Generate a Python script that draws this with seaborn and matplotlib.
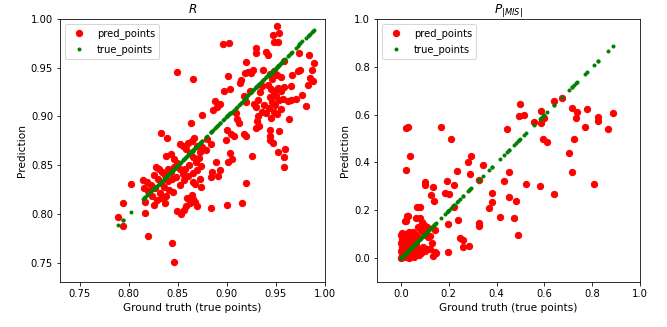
import seaborn as sns
import matplotlib.pyplot as plt

# R: ground truth vs prediction
r_truth = [0.951, 0.947, 0.953, 0.948, 0.952, 0.930, 0.930, 0.940, 0.942, 0.974, 0.984, 0.989, 0.920, 0.958,
           0.927, 0.925, 0.937, 0.972, 0.975, 0.987, 0.966, 0.985, 0.988, 0.983, 0.981, 0.977, 0.970, 0.965,
           0.962, 0.957, 0.965, 0.958, 0.955, 0.950, 0.946, 0.944, 0.948, 0.951, 0.955, 0.942, 0.945, 0.948,
           0.952, 0.944, 0.946, 0.949, 0.953, 0.943, 0.948, 0.951, 0.955, 0.940, 0.945, 0.963, 0.953, 0.944,
           0.944, 0.944, 0.947, 0.959, 0.958, 0.958, 0.952, 0.936, 0.934, 0.932, 0.928, 0.930, 0.932, 0.931,
           0.933, 0.930, 0.938, 0.936,
           0.896, 0.902, 0.901, 0.914, 0.913, 0.918, 0.922, 0.897, 0.903, 0.924, 0.888, 0.890, 0.886, 0.893,
           0.920, 0.917, 0.909, 0.910, 0.912, 0.900, 0.904, 0.899, 0.907, 0.917, 0.919, 0.880, 0.884, 0.879,
           0.875, 0.873, 0.926, 0.903, 0.905, 0.901, 0.889, 0.893, 0.891, 0.885, 0.884, 0.919, 0.915, 0.900,
           0.884, 0.875, 0.863, 0.866, 0.849,
           0.833, 0.839, 0.838, 0.843, 0.846, 0.852, 0.855, 0.858, 0.860, 0.864, 0.867, 0.870, 0.862, 0.866,
           0.869, 0.872, 0.874, 0.870, 0.866, 0.861, 0.857, 0.855, 0.852, 0.849, 0.846, 0.843, 0.840, 0.837,
           0.834, 0.831, 0.828, 0.826, 0.830, 0.833, 0.836, 0.840, 0.844, 0.848, 0.852, 0.856, 0.860, 0.865,
           0.868, 0.873, 0.874, 0.841, 0.845, 0.838, 0.832, 0.827, 0.823, 0.819, 0.816, 0.820, 0.824, 0.829,
           0.834, 0.837, 0.826, 0.859, 0.862, 0.865, 0.868, 0.870, 0.858, 0.856, 0.853, 0.849, 0.864, 0.817,
           0.817, 0.820, 0.844, 0.846, 0.789, 0.794, 0.794, 0.802, 0.815]
r_pred = [0.993, 0.984, 0.986, 0.976, 0.976, 0.970, 0.965, 0.966, 0.963, 0.965, 0.963, 0.955, 0.956, 0.957,
          0.948, 0.945, 0.948, 0.947, 0.948, 0.948, 0.942, 0.939, 0.936, 0.932, 0.911, 0.922, 0.918, 0.917,
          0.916, 0.918, 0.931, 0.930, 0.926, 0.921, 0.938, 0.944, 0.947, 0.942, 0.940, 0.932, 0.928, 0.925,
          0.929, 0.920, 0.915, 0.912, 0.917, 0.909, 0.905, 0.902, 0.908, 0.903, 0.898, 0.897, 0.885, 0.886,
          0.880, 0.876, 0.873, 0.867, 0.858, 0.848, 0.863, 0.931, 0.925, 0.917, 0.913, 0.910, 0.900, 0.895,
          0.890, 0.888, 0.912, 0.905,
          0.974, 0.975, 0.941, 0.937, 0.934, 0.945, 0.946, 0.926, 0.928, 0.926, 0.916, 0.910, 0.907, 0.913,
          0.915, 0.921, 0.903, 0.897, 0.893, 0.886, 0.882, 0.876, 0.880, 0.882, 0.880, 0.877, 0.872, 0.866,
          0.869, 0.863, 0.859, 0.862, 0.856, 0.853, 0.853, 0.845, 0.839, 0.843, 0.838, 0.832, 0.811, 0.809,
          0.806, 0.901, 0.893, 0.938, 0.946,
          0.883, 0.878, 0.859, 0.861, 0.856, 0.872, 0.870, 0.867, 0.873, 0.875, 0.878, 0.870, 0.862, 0.858,
          0.853, 0.857, 0.849, 0.845, 0.842, 0.850, 0.846, 0.841, 0.846, 0.852, 0.848, 0.843, 0.846, 0.840,
          0.843, 0.846, 0.848, 0.840, 0.836, 0.832, 0.828, 0.834, 0.836, 0.838, 0.830, 0.835, 0.839, 0.833,
          0.831, 0.836, 0.828, 0.824, 0.822, 0.818, 0.821, 0.826, 0.830, 0.833, 0.826, 0.823, 0.818, 0.814,
          0.816, 0.811, 0.809, 0.816, 0.811, 0.815, 0.812, 0.808, 0.808, 0.804, 0.800, 0.803, 0.819, 0.812,
          0.801, 0.777, 0.770, 0.751, 0.797, 0.811, 0.787, 0.831, 0.835]

# P_|MIS|: ground truth vs prediction
mis_truth = [0.886, 0.865, 0.824, 0.824, 0.807, 0.780, 0.770, 0.735, 0.731, 0.715, 0.724, 0.705, 0.717,
             0.674, 0.640, 0.584, 0.598, 0.557, 0.587, 0.595, 0.612, 0.580, 0.640,
             0.497, 0.495, 0.515, 0.523, 0.442, 0.431, 0.451, 0.379, 0.382, 0.370, 0.451, 0.482, 0.416,
             0.473, 0.488,
             0.020, 0.030, 0.168, 0.209, 0.038, 0.020, 0.294, 0.279, 0.343, 0.234, 0.290, 0.327, 0.099,
             0.100, 0.133, 0.192, 0.221, 0.183, 0.203, 0.124, 0.139, 0.069, 0.078, 0.029, 0.020, 0.223,
             0.196, 0.240, 0.143, 0.122, 0.247, 0.258, 0.260, 0.283, 0.196, 0.147, 0.133, 0.327, 0.326,
             0.000, 0.003, 0.002, 0.004, 0.001, 0.003, 0.002, 0.006, 0.010, 0.012, 0.010, 0.009, 0.014,
             0.016, 0.020, 0.024, 0.021, 0.026, 0.023, 0.030, 0.034, 0.040, 0.036, 0.041, 0.043, 0.046,
             0.050, 0.055, 0.051, 0.060, 0.064, 0.070, 0.075, 0.080, 0.086, 0.092, 0.100, 0.110, 0.120,
             0.056, 0.032, 0.062, 0.080, 0.090, 0.097, 0.110, 0.070, 0.084, 0.094, 0.104, 0.115, 0.130,
             0.144, 0.025, 0.018, 0.066, 0.048, 0.058]
mis_pred = [0.608, 0.538, 0.589, 0.573, 0.310, 0.623, 0.547, 0.610, 0.587, 0.629, 0.500, 0.440, 0.361,
            0.671, 0.658, 0.615, 0.587, 0.570, 0.564, 0.498, 0.487, 0.300, 0.270,
            0.644, 0.596, 0.598, 0.310, 0.539, 0.323, 0.360, 0.272, 0.233, 0.211, 0.256, 0.239, 0.172,
            0.166, 0.098,
            0.546, 0.550, 0.547, 0.500, 0.427, 0.370, 0.427, 0.400, 0.390, 0.366, 0.350, 0.328, 0.318,
            0.307, 0.296, 0.321, 0.304, 0.271, 0.268, 0.263, 0.240, 0.212, 0.212, 0.175, 0.154, 0.214,
            0.141, 0.158, 0.116, 0.094, 0.085, 0.077, 0.046, 0.049, 0.025, 0.022, 0.010, 0.147, 0.135,
            0.000, 0.012, 0.028, 0.045, 0.062, 0.080, 0.095, 0.105, 0.088, 0.070, 0.052, 0.035, 0.018,
            0.004, 0.100, 0.085, 0.066, 0.048, 0.030, 0.012, 0.108, 0.102, 0.080, 0.060, 0.032, 0.016,
            0.110, 0.082, 0.044, 0.022, 0.058, 0.034, 0.012, 0.040, 0.022, 0.046, 0.030, 0.040, 0.036,
            0.006, 0.002, 0.168, 0.166, 0.150, 0.140, 0.128, 0.132, 0.118, 0.108, 0.096, 0.088, 0.063,
            0.026, 0.175, 0.155, 0.092, 0.075, 0.100]

fig = plt.figure(figsize=(667 / 72, 327 / 72), dpi=72)
ax1 = fig.add_axes([60 / 667, 45 / 327, 265 / 667, 263 / 327])
ax2 = fig.add_axes([377 / 667, 45 / 327, 263 / 667, 263 / 327])


def draw(ax, truth, pred, title, lims, ticks):
    sns.scatterplot(x=truth, y=pred, ax=ax, color='red', edgecolor='red', linewidth=1, s=40,
                    label='pred_points', zorder=2)
    sns.scatterplot(x=truth, y=truth, ax=ax, color='green', edgecolor='green', linewidth=1, s=36,
                    marker='.', label='true_points', zorder=3)
    ax.set_xlim(lims)
    ax.set_ylim(lims)
    ax.set_xticks(ticks)
    ax.set_yticks(ticks)
    ax.set_title(title)
    ax.set_xlabel('Ground truth (true points)', fontsize=10.5)
    ax.set_ylabel('Prediction', fontsize=10.5)
    ax.legend(loc='upper left')


draw(ax1, r_truth, r_pred, '$R$', (0.73, 1.0), [0.75, 0.80, 0.85, 0.90, 0.95, 1.00])
draw(ax2, mis_truth, mis_pred, '$P_{|MIS|}$', (-0.1, 1.0), [0.0, 0.2, 0.4, 0.6, 0.8, 1.0])
ax1.set_xticklabels(['0.75', '0.80', '0.85', '0.90', '0.95', '1.00'])
ax1.set_yticklabels(['0.75', '0.80', '0.85', '0.90', '0.95', '1.00'])

plt.savefig('out.png', dpi=72)
